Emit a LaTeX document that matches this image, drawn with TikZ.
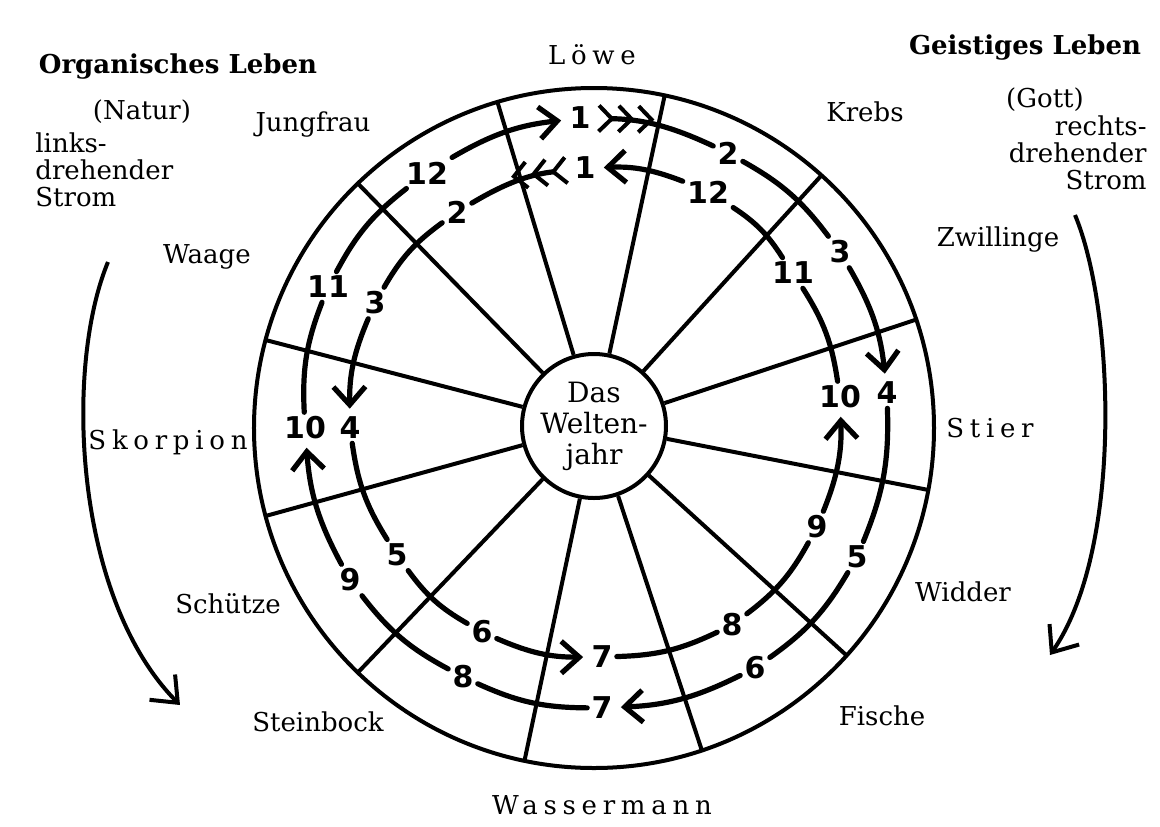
\documentclass[tikz,border=0pt]{standalone}
\usepackage{fontspec}
\setmainfont{DejaVu Serif}
\newfontfamily\handfont{DejaVu Sans}
\newfontfamily\spacedfont[LetterSpace=22]{DejaVu Serif}
\usetikzlibrary{arrows.meta}

\begin{document}
\begin{tikzpicture}[
    x=0.5pt, y=0.5pt,
    sign/.style={font=\fontsize{13}{13}\selectfont},
    wide/.style={font=\spacedfont\fontsize{13}{13}\selectfont},
    head/.style={font=\bfseries\fontsize{13}{13}\selectfont},
    note/.style={font=\fontsize{13}{13.5}\selectfont, inner sep=0pt},
    num/.style={font=\handfont\bfseries\fontsize{15}{15}\selectfont, inner sep=2pt},
    ring/.style={line width=2pt},
    spoke/.style={line width=2pt},
    track/.style={line width=2.6pt, line cap=round},
    arrow/.style={track, -{Straight Barb[length=9pt,width=16pt]}, shorten >=2pt},
    feather/.style={track, {Straight Barb[reversed,length=6.5pt,width=13pt,line width=2pt,sep=1pt]Straight Barb[reversed,length=6.5pt,width=13pt,line width=2pt,sep=1pt]Straight Barb[reversed,length=6.5pt,width=13pt,line width=2pt,sep=1pt]}-},
    stream/.style={line width=2pt, -{Straight Barb[length=11pt,width=18pt]}}
]
\useasboundingbox (-594,-398) rectangle (566,428);

% wheel
\draw[ring] (0,0) circle (340);
\node[circle, draw, ring, minimum size=72pt, inner sep=0pt, align=center,
      font=\fontsize{14}{15.5}\selectfont] (jahr) at (0,2) {Das\\Welten-\\jahr};
\draw[spoke] (jahr.78) -- (78:340);
\draw[spoke] (jahr.48) -- (48:340);
\draw[spoke] (jahr.18.6) -- (18.6:340);
\draw[spoke] (jahr.-10.5) -- (-10.5:340);
\draw[spoke] (jahr.-42) -- (-42:340);
\draw[spoke] (jahr.-71.5) -- (-71.5:340);
\draw[spoke] (jahr.-101.8) -- (-101.8:340);
\draw[spoke] (jahr.-134) -- (-134:340);
\draw[spoke] (jahr.-165) -- (-165:340);
\draw[spoke] (jahr.165) -- (165:340);
\draw[spoke] (jahr.134) -- (134:340);
\draw[spoke] (jahr.106.5) -- (106.5:340);

% signs
\node[wide] (loewe) at (-2,373) {Löwe};
\node[sign] (krebs) at (271,316) {Krebs};
\node[sign] (zwillinge) at (404,188) {Zwillinge};
\node[wide] (stier) at (396,0) {Stier};
\node[sign] (widder) at (369,-164) {Widder};
\node[sign] (fische) at (288,-288) {Fische};
\node[wide] (wassermann) at (8,-377) {Wassermann};
\node[sign] (steinbock) at (-276,-294) {Steinbock};
\node[sign] (schuetze) at (-366,-176) {Schütze};
\node[wide] (skorpion) at (-426,-14) {Skorpion};
\node[sign] (waage) at (-387,171) {Waage};
\node[sign] (jungfrau) at (-281,303) {Jungfrau};

% the two sides
\node[head] (organisch) at (-416,361) {Organisches Leben};
\node[sign] (natur) at (-452,316) {(Natur)};
\node[note, anchor=north west, align=left] (links) at (-559,296) {links-\\drehender\\Strom};
\node[head] (geistig) at (431,380) {Geistiges Leben};
\node[sign] (gott) at (451,328) {(Gott)};
\node[note, anchor=north east, align=right] (rechts) at (553,313) {rechts-\\drehender\\Strom};

\coordinate (lfrom) at (-486,166);
\coordinate (lto) at (-414,-277);
\draw[stream] (lfrom) .. controls (-530,60) and (-520,-170) .. (lto);
\coordinate (rfrom) at (481,213);
\coordinate (rto) at (456,-227);
\draw[stream] (rfrom) .. controls (520,120) and (530,-120) .. (rto);

% outer track, clockwise
\node[num] (o1) at (-14,310) {1};
\node[num] (o2) at (134,275) {2};
\node[num] (o3) at (246,176) {3};
\node[num] (o4) at (293,35) {4};
\node[num] (o5) at (263,-129) {5};
\node[num] (o6) at (161,-240) {6};
\node[num] (o7) at (8,-280) {7};
\node[num] (o8) at (-131,-249) {8};
\node[num] (o9) at (-244,-152) {9};
\node[num] (o10) at (-289,0) {10};
\node[num] (o11) at (-266,141) {11};
\node[num] (o12) at (-167,255) {12};

\draw[arrow] (o12) to[bend left=12] (o1);
\draw[feather] (o1) to[bend left=12] (o2);
\draw[track] (o2) to[bend left=12] (o3);
\draw[arrow] (o3) to[bend left=12] (o4);
\draw[track] (o4) to[bend left=12] (o5);
\draw[track] (o5) to[bend left=12] (o6);
\draw[arrow] (o6) to[bend left=12] (o7);
\draw[track] (o7) to[bend left=12] (o8);
\draw[track] (o8) to[bend left=12] (o9);
\draw[arrow] (o9) to[bend left=12] (o10);
\draw[track] (o10) to[bend left=12] (o11);
\draw[track] (o11) to[bend left=12] (o12);

% inner track, anticlockwise
\node[num] (i1) at (-9,260) {1};
\node[num] (i2) at (-137,216) {2};
\node[num] (i3) at (-219,125) {3};
\node[num] (i4) at (-244,0) {4};
\node[num] (i5) at (-197,-127) {5};
\node[num] (i6) at (-112,-204) {6};
\node[num] (i7) at (8,-229) {7};
\node[num] (i8) at (138,-197) {8};
\node[num] (i9) at (223,-99) {9};
\node[num] (i10) at (246,31) {10};
\node[num] (i11) at (199,155) {11};
\node[num] (i12) at (114,236) {12};

\draw[feather] (i1) to[bend right=12] (i2);
\draw[track] (i2) to[bend right=12] (i3);
\draw[arrow] (i3) to[bend right=12] (i4);
\draw[track] (i4) to[bend right=12] (i5);
\draw[track] (i5) to[bend right=12] (i6);
\draw[arrow] (i6) to[bend right=12] (i7);
\draw[track] (i7) to[bend right=12] (i8);
\draw[track] (i8) to[bend right=12] (i9);
\draw[arrow] (i9) to[bend right=12] (i10);
\draw[track] (i10) to[bend right=12] (i11);
\draw[track] (i11) to[bend right=12] (i12);
\draw[arrow] (i12) to[bend right=12] (i1);
\end{tikzpicture}
\end{document}
